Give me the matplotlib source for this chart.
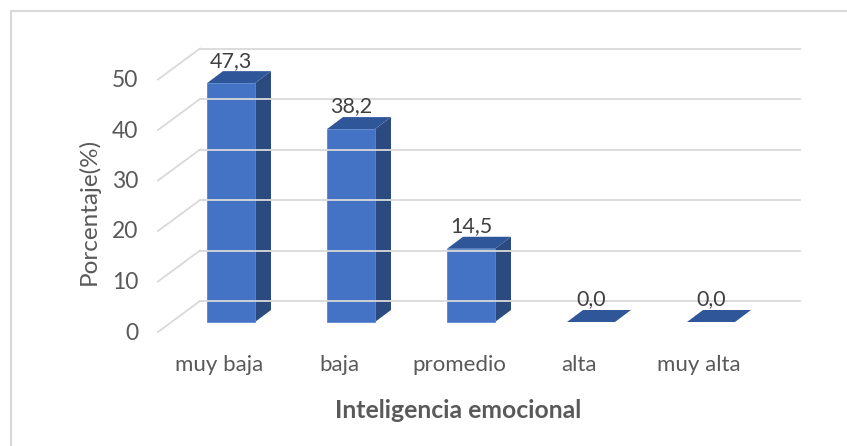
import matplotlib.pyplot as plt
from matplotlib.patches import Polygon, Rectangle

categorias = ['muy baja', 'baja', 'promedio', 'alta', 'muy alta']
porcentajes = [47.3, 38.2, 14.5, 0.0, 0.0]
etiquetas = ['47,3', '38,2', '14,5', '0,0', '0,0']
ticks_y = [0, 10, 20, 30, 40, 50]

plt.rcParams['font.family'] = ['Lato', 'DejaVu Sans']

W, H = 847, 446
PX_X = 120.0   # pixeles por categoria
PX_Y = 5.05    # pixeles por punto porcentual
X0, Y0 = 231, 322  # pixel de la primera barra y de la base


def px(x):
    return (x - X0) / PX_X


def py(y):
    return (Y0 - y) / PX_Y


gris = '#595959'
rejilla = '#d9d9d9'
frente = '#4472C4'
lado = '#2B4B80'
tapa = '#30569A'

fig = plt.figure(figsize=(W / 100, H / 100), dpi=100)
ax = fig.add_axes([0, 0, 1, 1])
ax.set_xlim(px(0), px(W))
ax.set_ylim(py(H), py(0))
ax.axis('off')

# marco exterior
ax.plot([px(10.5), px(10.5), px(W)], [py(H), py(11), py(11)],
        color=rejilla, lw=1.5, clip_on=False)

# paredes (efecto 3D)
dy_back = 21 / PX_Y
dy_front = -10 / PX_Y
for v in ticks_y:
    ax.plot([px(200), px(800)], [v + dy_back, v + dy_back], color=rejilla, lw=1.3)
    ax.plot([px(158), px(200)], [v + dy_front, v + dy_back], color=rejilla, lw=1.3)
    ax.text(px(138), v + dy_front - 1 / PX_Y, str(v), ha='right', va='center',
            fontsize=16.5, color=gris)

# barras 3D
bw = 48 / PX_X
ddx = 16 / PX_X
ddy = 12 / PX_Y
for i, v in enumerate(porcentajes):
    l, r = i - bw / 2, i + bw / 2
    ax.add_patch(Polygon([(r, 0), (r + ddx, ddy), (r + ddx, v + ddy), (r, v)],
                         closed=True, fc=lado, ec='none'))
    ax.add_patch(Polygon([(l, v), (r, v), (r + ddx, v + ddy), (l + ddx, v + ddy)],
                         closed=True, fc=tapa, ec='none'))
    if v > 0:
        ax.add_patch(Rectangle((l, 0), bw, v, fc=frente, ec='#5b86d0', lw=0.6))
    ax.text(i, v + ddy + 4.5 / PX_Y, etiquetas[i], ha='center', va='baseline',
            fontsize=15.5, color='#404040')
    ax.text(i - 12 / PX_X, py(365), categorias[i], ha='center', va='center',
            fontsize=16, color=gris)

ax.text(px(458), py(410), 'Inteligencia emocional', ha='center', va='center',
        fontsize=17.8, fontweight='bold', color=gris)
ax.text(px(89), py(211), 'Porcentaje(%)', ha='center', va='center',
        rotation=90, fontsize=17.5, color=gris)

fig.savefig('out.png', dpi=100)
